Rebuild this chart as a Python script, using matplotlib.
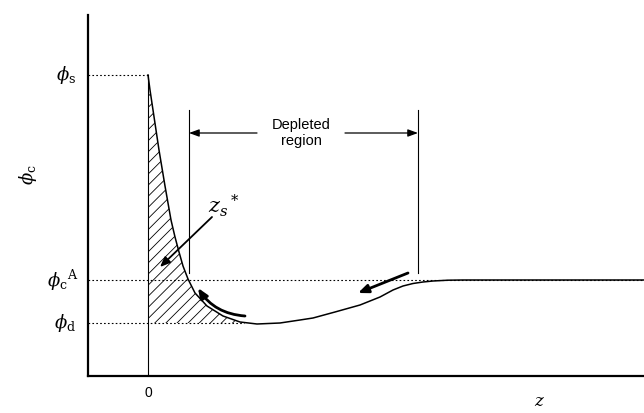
import matplotlib
matplotlib.use("Agg")
import matplotlib.pyplot as plt

# Concentration profile phi_c(z) near the wall (schematic units)
z_profile = [0.0, 0.2, 0.5, 0.8, 1.1, 1.4, 1.7, 2.0, 2.3, 2.7, 3.1, 3.5, 4.0, 4.7,
             5.9, 7.5, 9.2, 10.9, 13.2, 15.2, 16.5, 18.7, 21.2, 23.2, 24.5, 25.5,
             26.5, 27.5, 28.5, 30.0, 31.5, 49.6]
phi_profile = [30.1, 28.6, 26.6, 24.6, 22.6, 20.8, 19.0, 17.3, 15.6, 13.9, 12.4, 11.0, 9.7, 8.3,
               7.0, 6.0, 5.4, 5.2, 5.3, 5.6, 5.8, 6.4, 7.1, 7.9, 8.6, 9.0,
               9.25, 9.4, 9.5, 9.58, 9.6, 9.6]

# Reference levels
phi_s = 30.1
phi_cA = 9.6
phi_d = 5.3
hatch_end = 9.6
depleted_start = 4.1
depleted_end = 27.0

plt.rcParams['font.family'] = ['Liberation Sans', 'DejaVu Sans']
plt.rcParams['mathtext.fontset'] = 'dejavuserif'
plt.rcParams['hatch.linewidth'] = 0.6

fig = plt.figure(figsize=(6.44, 4.13), dpi=100)
ax = fig.add_axes([88 / 644, 37 / 413, 556 / 644, 361 / 413])
ax.set_xlim(-6.0, 49.6)
ax.set_ylim(0, 36.1)
ax.set_xticks([])
ax.set_yticks([])
for s in ('top', 'right'):
    ax.spines[s].set_visible(False)
for s in ('left', 'bottom'):
    ax.spines[s].set_linewidth(1.6)

# Hatched excess region between the profile and phi_d, next to the wall
ax.fill_between(z_profile, phi_d, phi_profile,
                where=[(p >= phi_d) and (z <= hatch_end) for z, p in zip(z_profile, phi_profile)],
                interpolate=True, facecolor='none', edgecolor='black', hatch='///', linewidth=0)

# Profile curve
ax.plot(z_profile, phi_profile, color='black', lw=1.1, solid_joinstyle='round')

# Wall at z = 0
ax.plot([0, 0], [0, phi_s], color='black', lw=0.8)

# Dotted guide lines
dot = dict(color='black', lw=0.8, ls=(0, (1.5, 2)))
ax.plot([-6.0, 0], [phi_s, phi_s], **dot)
ax.plot([-6.0, 49.6], [phi_cA, phi_cA], **dot)
ax.plot([-6.0, hatch_end], [phi_d, phi_d], **dot)

# Level labels
ax.text(-7.2, phi_s, r'$\phi_{\rm s}$', ha='right', va='center', fontsize=13, clip_on=False)
ax.text(-7.0, phi_cA, r'$\phi_{\rm c}{}^{\rm A}$', ha='right', va='center', fontsize=13, clip_on=False)
ax.text(-7.2, phi_d, r'$\phi_{\rm d}$', ha='right', va='center', fontsize=13, clip_on=False)
ax.text(-12.0, 20.1, r'$\phi_{\rm c}$', ha='center', va='center', fontsize=13,
        rotation=90, clip_on=False)
ax.text(0, -1.7, '0', ha='center', va='center', fontsize=10, clip_on=False)
ax.text(39.2, -2.6, r'$\mathbf{\mathit{z}}$', ha='center', va='center', fontsize=12, clip_on=False)

# Depleted region markers
ax.plot([depleted_start, depleted_start], [10.3, 26.6], color='black', lw=0.8)
ax.plot([depleted_end, depleted_end], [10.3, 26.6], color='black', lw=0.8)
head = dict(arrowstyle='-|>,head_length=0.6,head_width=0.22', color='black', lw=0.9,
            shrinkA=0, shrinkB=0)
ax.annotate('', xy=(depleted_start, 24.3), xytext=(10.9, 24.3), arrowprops=head)
ax.annotate('', xy=(depleted_end, 24.3), xytext=(19.7, 24.3), arrowprops=head)
ax.text(15.3, 24.3, 'Depleted\nregion', ha='center', va='center', fontsize=10.5,
        linespacing=1.25)

# z_s* annotation
ax.text(7.6, 17.0, r'$z_s{}^*$', ha='center', va='center', fontsize=15)
thick = dict(arrowstyle='-|>,head_length=0.6,head_width=0.25', color='black', lw=1.3,
             shrinkA=0, shrinkB=0)
ax.annotate('', xy=(1.2, 10.9), xytext=(6.4, 15.9), arrowprops=thick)

# Flow-direction arrows along the profile
curved = dict(thick, lw=2.0, connectionstyle='arc3,rad=-0.25')
ax.annotate('', xy=(5.0, 8.8), xytext=(9.7, 6.0), arrowprops=curved)
straight = dict(thick, lw=2.0)
ax.annotate('', xy=(21.0, 8.3), xytext=(26.0, 10.3), arrowprops=straight)

fig.savefig('out.png', dpi=100)
